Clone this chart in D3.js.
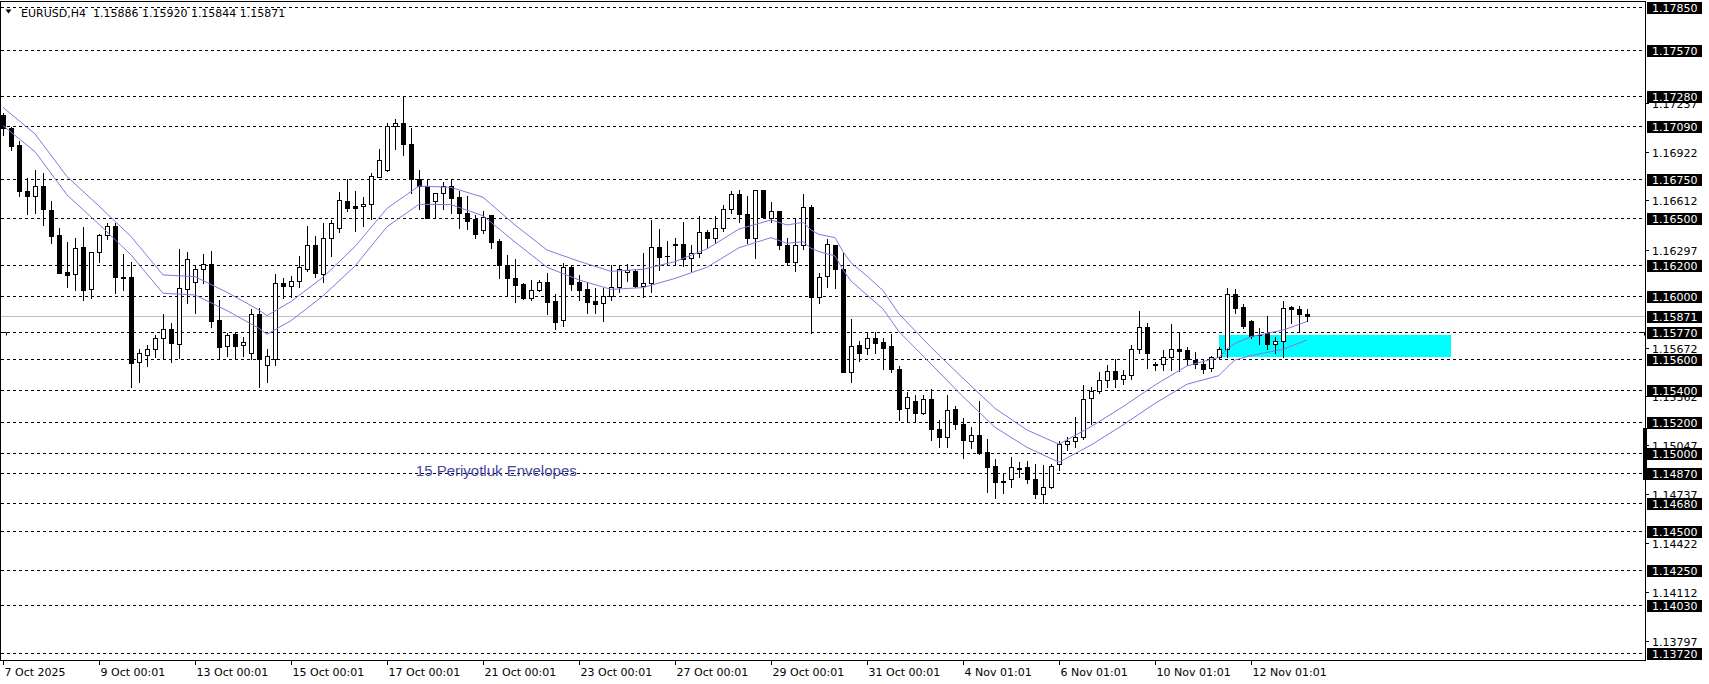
<!DOCTYPE html>
<html><head><meta charset="utf-8">
<script src="https://cdn.jsdelivr.net/npm/d3@7"></script>
<style>html,body{margin:0;padding:0;background:#fff;overflow:hidden}</style>
</head><body>
<svg id="c" width="1709" height="684"></svg>
<script>
const symbolTitle = "EURUSD,H4  1.15886 1.15920 1.15844 1.15871";
const opens = [1.17157,1.17072,1.16966,1.16672,1.16642,1.16702,1.16551,1.16391,1.16155,1.16140,1.16315,1.16044,1.16281,1.16389,1.16449,1.16121,1.16121,1.15582,1.15623,1.15661,1.15732,1.15789,1.15693,1.16044,1.16089,1.16172,1.16206,1.15849,1.15680,1.15759,1.15690,1.15640,1.15885,1.15560,1.15600,1.16083,1.16068,1.16095,1.16176,1.16325,1.16140,1.16370,1.16438,1.16608,1.16574,1.16574,1.16587,1.16764,1.16804,1.17087,1.17104,1.16970,1.16751,1.16702,1.16606,1.16657,1.16704,1.16634,1.16534,1.16493,1.16421,1.16517,1.16353,1.16197,1.16117,1.16076,1.15987,1.16038,1.16089,1.15970,1.15846,1.16185,1.16091,1.16044,1.15970,1.15955,1.16002,1.16057,1.16153,1.16161,1.16066,1.16083,1.16312,1.16259,1.16334,1.16334,1.16242,1.16278,1.16408,1.16374,1.16438,1.16555,1.16651,1.16523,1.16374,1.16676,1.16497,1.16544,1.16327,1.16221,1.16327,1.16568,1.15997,1.16131,1.16327,1.16172,1.15514,1.15689,1.15668,1.15731,1.15706,1.15682,1.15535,1.15284,1.15331,1.15257,1.15344,1.15152,1.15103,1.15280,1.15184,1.15078,1.15114,1.15008,1.14916,1.14823,1.14831,1.14901,1.14908,1.14831,1.14735,1.14784,1.14927,1.15055,1.15076,1.15104,1.15348,1.15395,1.15465,1.15520,1.15470,1.15500,1.15661,1.15801,1.15567,1.15565,1.15610,1.15663,1.15657,1.15593,1.15565,1.15540,1.15610,1.15661,1.16012,1.15929,1.15842,1.15753,1.15763,1.15693,1.15714,1.15929,1.15918,1.15886];
const highs = [1.17168,1.17083,1.16991,1.16753,1.16806,1.16785,1.16608,1.16434,1.16344,1.16370,1.16442,1.16285,1.16398,1.16470,1.16470,1.16270,1.16221,1.15661,1.15689,1.15753,1.15885,1.15832,1.16300,1.16281,1.16200,1.16270,1.16287,1.15976,1.15765,1.15774,1.15738,1.15917,1.15927,1.15660,1.16142,1.16114,1.16131,1.16257,1.16449,1.16385,1.16466,1.16487,1.16666,1.16751,1.16672,1.16632,1.16785,1.16940,1.17108,1.17130,1.17281,1.17072,1.16806,1.16751,1.16660,1.16727,1.16746,1.16674,1.16640,1.16519,1.16544,1.16521,1.16363,1.16261,1.16238,1.16087,1.16104,1.16104,1.16146,1.16015,1.16215,1.16200,1.16134,1.16082,1.16053,1.16051,1.16197,1.16197,1.16204,1.16172,1.16274,1.16487,1.16427,1.16353,1.16374,1.16476,1.16327,1.16512,1.16423,1.16512,1.16582,1.16672,1.16678,1.16640,1.16678,1.16678,1.16602,1.16546,1.16374,1.16497,1.16653,1.16583,1.16146,1.16365,1.16329,1.16274,1.15853,1.15714,1.15770,1.15770,1.15731,1.15759,1.15555,1.15387,1.15370,1.15370,1.15406,1.15210,1.15370,1.15299,1.15221,1.15167,1.15331,1.15089,1.14961,1.14865,1.14972,1.14940,1.14948,1.14927,1.14923,1.14927,1.15078,1.15099,1.15227,1.15433,1.15423,1.15516,1.15560,1.15600,1.15530,1.15689,1.15906,1.15831,1.15582,1.15657,1.15823,1.15769,1.15674,1.15642,1.15599,1.15618,1.15674,1.16050,1.16044,1.15950,1.15848,1.15795,1.15874,1.15738,1.15970,1.15938,1.15938,1.15920];
const lows = [1.17030,1.16934,1.16642,1.16525,1.16534,1.16455,1.16342,1.16148,1.16061,1.16040,1.15976,1.15987,1.16221,1.16363,1.16019,1.16040,1.15420,1.15450,1.15555,1.15615,1.15597,1.15582,1.15608,1.15959,1.15895,1.16087,1.15806,1.15608,1.15620,1.15600,1.15620,1.15600,1.15420,1.15450,1.15560,1.15987,1.15998,1.16061,1.16164,1.16125,1.16093,1.16259,1.16413,1.16547,1.16419,1.16449,1.16491,1.16759,1.16800,1.16942,1.16904,1.16661,1.16555,1.16500,1.16502,1.16555,1.16529,1.16434,1.16427,1.16374,1.16406,1.16310,1.16119,1.16008,1.15966,1.15980,1.15976,1.16031,1.15887,1.15789,1.15812,1.16038,1.15976,1.15895,1.15895,1.15844,1.15976,1.16029,1.16097,1.16061,1.15997,1.16029,1.16168,1.16204,1.16204,1.16193,1.16163,1.16253,1.16310,1.16342,1.16417,1.16529,1.16476,1.16342,1.16246,1.16502,1.16476,1.16302,1.16204,1.16163,1.16302,1.15768,1.15959,1.16061,1.16055,1.15514,1.15455,1.15589,1.15631,1.15640,1.15536,1.15518,1.15210,1.15199,1.15199,1.15248,1.15082,1.15040,1.15040,1.15150,1.14970,1.15029,1.14993,1.14752,1.14714,1.14742,1.14784,1.14844,1.14805,1.14710,1.14678,1.14778,1.14891,1.15018,1.15040,1.15089,1.15182,1.15384,1.15420,1.15420,1.15440,1.15470,1.15640,1.15540,1.15530,1.15530,1.15530,1.15520,1.15561,1.15540,1.15510,1.15520,1.15600,1.15614,1.15895,1.15799,1.15736,1.15695,1.15663,1.15640,1.15614,1.15831,1.15780,1.15844];
const closes = [1.17072,1.16962,1.16674,1.16642,1.16702,1.16559,1.16387,1.16151,1.16138,1.16306,1.16040,1.16281,1.16389,1.16449,1.16121,1.16118,1.15576,1.15636,1.15661,1.15732,1.15789,1.15700,1.16051,1.16236,1.16172,1.16206,1.15844,1.15678,1.15750,1.15680,1.15710,1.15885,1.15600,1.15620,1.16083,1.16068,1.16095,1.16185,1.16325,1.16146,1.16370,1.16466,1.16613,1.16566,1.16566,1.16587,1.16766,1.16870,1.17087,1.17104,1.16970,1.16751,1.16704,1.16502,1.16657,1.16704,1.16629,1.16529,1.16483,1.16400,1.16508,1.16349,1.16197,1.16114,1.16072,1.15987,1.16038,1.16089,1.15966,1.15838,1.16185,1.16080,1.16042,1.15966,1.15948,1.16002,1.16059,1.16172,1.16168,1.16066,1.16083,1.16312,1.16253,1.16255,1.16329,1.16236,1.16274,1.16408,1.16374,1.16434,1.16555,1.16651,1.16523,1.16374,1.16676,1.16508,1.16544,1.16327,1.16221,1.16327,1.16568,1.15997,1.16125,1.16331,1.16172,1.15519,1.15685,1.15640,1.15731,1.15704,1.15672,1.15533,1.15278,1.15355,1.15253,1.15342,1.15150,1.15103,1.15272,1.15182,1.15082,1.15114,1.14997,1.14912,1.14816,1.14812,1.14908,1.14899,1.14831,1.14735,1.14784,1.14918,1.15055,1.15078,1.15104,1.15342,1.15395,1.15465,1.15520,1.15470,1.15500,1.15661,1.15801,1.15640,1.15562,1.15610,1.15663,1.15652,1.15597,1.15565,1.15536,1.15614,1.15663,1.16012,1.15927,1.15812,1.15746,1.15750,1.15693,1.15714,1.15923,1.15916,1.15884,1.15871];

const envBars  = [0,4,8,12,16,20,24,28,32,33,36,40,44,48,52,56,60,64,68,72,76,80,84,88,92,96,98,100,101,102,104,105,106,108,110,112,116,120,124,128,132,136,140,144,148,152,153,154,156,160,163];
const envUpper = [1.17206,1.17036,1.16764,1.16576,1.16381,1.16136,1.16125,1.16025,1.15912,1.15876,1.15966,1.16121,1.16317,1.16561,1.16704,1.16695,1.16632,1.16455,1.16295,1.16223,1.16159,1.16172,1.16221,1.16302,1.16429,1.16487,1.16455,1.16472,1.16423,1.16395,1.16374,1.16285,1.16214,1.16129,1.16036,1.15887,1.15674,1.15476,1.15284,1.15146,1.15055,1.15167,1.15295,1.15433,1.15555,1.15610,1.15663,1.15699,1.15742,1.15784,1.15838];
const envLower = [1.17089,1.16923,1.16647,1.16459,1.16264,1.16019,1.16008,1.15908,1.15795,1.15757,1.15844,1.16002,1.16193,1.16444,1.16587,1.16585,1.16514,1.16346,1.16185,1.16104,1.16044,1.16055,1.16114,1.16185,1.16310,1.16374,1.16338,1.16348,1.16306,1.16285,1.16257,1.16168,1.16097,1.16008,1.15919,1.15774,1.15567,1.15359,1.15163,1.15035,1.14940,1.15050,1.15178,1.15316,1.15438,1.15493,1.15546,1.15593,1.15621,1.15661,1.15721];

const levelPrices = [1.17850,1.17570,1.17280,1.17090,1.16750,1.16500,1.16200,1.16000,1.15770,1.15600,1.15400,1.15200,1.15000,1.14870,1.14680,1.14500,1.14250,1.14030,1.13720];
const axisTickPrices = [1.17237,1.16922,1.16612,1.16297,1.15672,1.15362,1.15047,1.14737,1.14422,1.14112,1.13797];
const currentPrice = 1.15871;
const dateTickBars = [0,12,24,36,48,60,72,84,96,108,120,132,144,156];
const dateTickLabels = ["7 Oct 2025","9 Oct 00:01","13 Oct 00:01","15 Oct 00:01","17 Oct 00:01","21 Oct 00:01","23 Oct 00:01","27 Oct 00:01","29 Oct 00:01","31 Oct 00:01","4 Nov 01:01","6 Nov 01:01","10 Nov 01:01","12 Nov 01:01"];
const zoneBars = [152, 181];
const zonePrices = [1.15614, 1.15752];
const markerPrices = [1.15159, 1.14827];
const bracketPrice = [1.15770];
const noteText = "15 Periyotluk Envelopes";
const noteBar = [51.6];
const notePrice = [1.14884];

const svg = d3.select("#c");
const FONT = "DejaVu Sans";
const plotRight = 1645;
const plotBottom = 660;
const x = d3.scaleLinear().domain([0, 163]).range([3, 1307]);
const y = d3.scaleLinear().domain([1.13720, 1.17850]).range([653.3, 6.5]);
const py = p => Math.round(y(p)) + 0.5;

svg.append("rect").attr("width",1709).attr("height",684).attr("fill","#fff");

// dashed level lines
svg.append("g").selectAll("line").data(levelPrices).join("line")
  .attr("x1",1).attr("x2",plotRight).attr("y1",py).attr("y2",py)
  .attr("stroke","#000").attr("stroke-width",1).attr("stroke-dasharray","3,3");

// small line-object markers at both ends of one level
const bY = py(bracketPrice[0]);
svg.append("path").attr("d",`M2,${bY} H6.5 V${bY+3}`).attr("fill","none").attr("stroke","#000");
svg.append("path").attr("d",`M${plotRight-4},${bY} H${plotRight-0.5} V${bY+3}`).attr("fill","none").attr("stroke","#000");

// current price line
svg.append("line").attr("x1",1).attr("x2",plotRight).attr("y1",py(currentPrice)).attr("y2",py(currentPrice))
  .attr("stroke","#c0c0c0").attr("stroke-width",1);

// cyan zone
svg.append("rect")
  .attr("x", Math.round(x(zoneBars[0]))).attr("width", Math.round(x(zoneBars[1])) - Math.round(x(zoneBars[0])))
  .attr("y", Math.round(y(zonePrices[1]))).attr("height", Math.round(y(zonePrices[0])) - Math.round(y(zonePrices[1])))
  .attr("fill","#00ffff");

// candles
const bars = opens.map((o,i)=>({i, o, h:highs[i], l:lows[i], c:closes[i]}));
const cg = svg.append("g");
bars.forEach(b=>{
  const cx = Math.round(x(b.i));
  const yH = Math.round(y(b.h)), yL = Math.round(y(b.l));
  cg.append("line").attr("x1",cx+0.5).attr("x2",cx+0.5).attr("y1",yH).attr("y2",yL+1)
    .attr("stroke","#000").attr("stroke-width",1);
  const yT = Math.round(y(Math.max(b.o,b.c))), yB = Math.round(y(Math.min(b.o,b.c)));
  if (yB - yT < 1) {
    cg.append("line").attr("x1",cx-2).attr("x2",cx+3).attr("y1",yT+0.5).attr("y2",yT+0.5)
      .attr("stroke","#000").attr("stroke-width",1);
  } else {
    cg.append("rect").attr("x",cx-2+0.5).attr("y",yT+0.5).attr("width",4).attr("height",yB-yT)
      .attr("fill", b.c >= b.o ? "#fff" : "#000").attr("stroke","#000").attr("stroke-width",1);
  }
});

// envelopes
const envLine = d3.line().x(d=>x(d[0])).y(d=>y(d[1]));
svg.append("path").attr("d", envLine(envBars.map((b,k)=>[b, envUpper[k]])))
  .attr("fill","none").attr("stroke","#9370db").attr("stroke-width",1);
svg.append("path").attr("d", envLine(envBars.map((b,k)=>[b, envLower[k]])))
  .attr("fill","none").attr("stroke","#9370db").attr("stroke-width",1);

// annotation
svg.append("text").attr("x", x(noteBar[0])).attr("y", y(notePrice[0]) + 5)
  .attr("font-family","Liberation Sans, Arial, sans-serif").attr("font-size",15)
  .attr("fill","#4646a0").text(noteText);

// frame
svg.append("line").attr("x1",0.5).attr("x2",0.5).attr("y1",1).attr("y2",plotBottom).attr("stroke","#000");
svg.append("line").attr("x1",0).attr("x2",plotRight).attr("y1",1.5).attr("y2",1.5).attr("stroke","#000");
svg.append("line").attr("x1",plotRight+0.5).attr("x2",plotRight+0.5).attr("y1",1).attr("y2",plotBottom+1).attr("stroke","#000");
svg.append("line").attr("x1",0).attr("x2",plotRight+1).attr("y1",plotBottom+0.5).attr("y2",plotBottom+0.5).attr("stroke","#000");

// header
svg.append("path").attr("d","M5.5,9.5 L11.5,9.5 L8.5,13.5 Z").attr("fill","#000");
svg.append("text").attr("x",21).attr("y",17).attr("font-family",FONT).attr("font-size",11)
  .attr("fill","#000").attr("xml:space","preserve").style("white-space","pre").text(symbolTitle);

// date axis
const dg = svg.append("g");
dateTickBars.forEach((b,k)=>{
  const tx = Math.round(x(b)) + 0.5;
  dg.append("line").attr("x1",tx).attr("x2",tx).attr("y1",plotBottom).attr("y2",plotBottom+5).attr("stroke","#000");
  dg.append("text").attr("x",tx+1).attr("y",676).attr("font-family",FONT).attr("font-size",11)
    .attr("fill","#000").text(dateTickLabels[k]);
});

// price axis plain ticks
const ag = svg.append("g");
axisTickPrices.forEach(p=>{
  ag.append("line").attr("x1",plotRight).attr("x2",plotRight+4).attr("y1",py(p)).attr("y2",py(p)).attr("stroke","#000");
  ag.append("text").attr("x",1652).attr("y",Math.round(y(p))+4.5).attr("font-family",FONT).attr("font-size",11)
    .attr("fill","#000").text(p.toFixed(5));
});

// marker bar on axis
svg.append("rect").attr("x",1643).attr("width",4)
  .attr("y", Math.round(y(markerPrices[0]))).attr("height", Math.round(y(markerPrices[1])) - Math.round(y(markerPrices[0])))
  .attr("fill","#000");

// boxed level labels
const bg = svg.append("g");
levelPrices.concat([currentPrice]).forEach(p=>{
  const yy = Math.round(y(p));
  bg.append("rect").attr("x",1647).attr("y",yy-5).attr("width",55).attr("height",12).attr("fill","#000");
  bg.append("text").attr("x",1652).attr("y",yy+4.5).attr("font-family",FONT).attr("font-size",11)
    .attr("fill","#fff").text(p.toFixed(5));
});
</script>
</body></html>
